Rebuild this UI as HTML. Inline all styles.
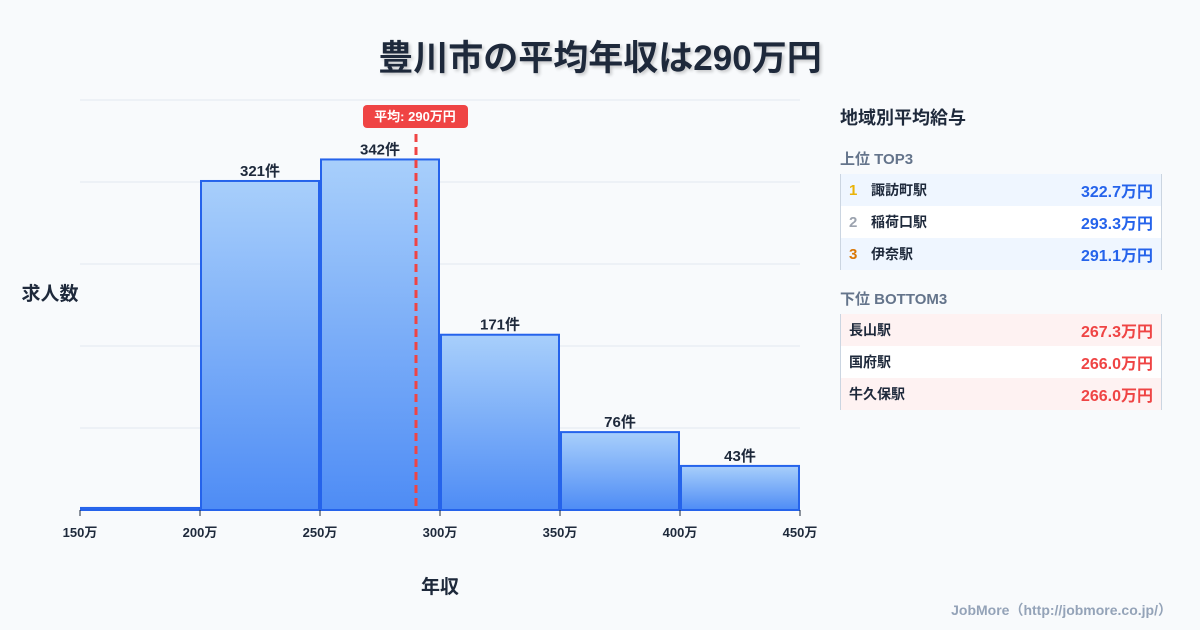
<!DOCTYPE html>
<html><head><meta charset="utf-8">
<style>
body{margin:0;width:1200px;height:630px;background:#f8fafc;font-family:"Liberation Sans","Noto Sans CJK JP",sans-serif;overflow:hidden;position:relative}
.title{position:absolute;top:30px;left:0;width:1200px;text-align:center;font-size:35px;font-weight:bold;color:#1e293b;text-shadow:2px 2px 3px rgba(0,0,0,0.2)}
.panel{position:absolute;left:840px;top:100px;width:322px}
.ph{font-size:18px;font-weight:bold;color:#1e293b;margin-top:4px}
.sh{font-size:15px;font-weight:bold;color:#64748b;margin-top:18px;margin-bottom:5px}
.tbl{border-right:1px solid #cbd5e1;border-left:1px solid #cbd5e1}
.row{height:32px;display:flex;align-items:center;font-size:14px;font-weight:bold;color:#1e293b;padding-left:8px;padding-right:8px}
.row .v{margin-left:auto;font-size:16px}
.rk{width:22px;font-size:15px}
.foot{position:absolute;right:28px;bottom:10px;font-size:14px;font-weight:bold;color:#94a3b8}
</style></head><body>
<div class="title">豊川市の平均年収は290万円</div>
<svg id="chart" width="1200" height="630" style="position:absolute;left:0;top:0">
<defs><linearGradient id="g" x1="0" y1="0" x2="0" y2="1"><stop offset="0" stop-color="#a8cffb"/><stop offset="1" stop-color="#4e8cf5"/></linearGradient></defs>
</svg>
<div class="panel">
<div class="ph">地域別平均給与</div>
<div class="sh">上位 TOP3</div>
<div class="tbl">
<div class="row" style="background:#eff6ff"><span class="rk" style="color:#eab308">1</span>諏訪町駅<span class="v" style="color:#2563eb">322.7万円</span></div>
<div class="row" style="background:#fff"><span class="rk" style="color:#9ca3af">2</span>稲荷口駅<span class="v" style="color:#2563eb">293.3万円</span></div>
<div class="row" style="background:#eff6ff"><span class="rk" style="color:#d97706">3</span>伊奈駅<span class="v" style="color:#2563eb">291.1万円</span></div>
</div>
<div class="sh">下位 BOTTOM3</div>
<div class="tbl">
<div class="row" style="background:#fef2f2">長山駅<span class="v" style="color:#ef4444">267.3万円</span></div>
<div class="row" style="background:#fff">国府駅<span class="v" style="color:#ef4444">266.0万円</span></div>
<div class="row" style="background:#fef2f2">牛久保駅<span class="v" style="color:#ef4444">266.0万円</span></div>
</div>
</div>
<div class="foot">JobMore（http://jobmore.co.jp/）</div>
<script>
const binStarts=[150,200,250,300,350,400];
const counts=[2,321,342,171,76,43];
const xTicks=[150,200,250,300,350,400,450];
const average=290;
const svg=document.getElementById('chart');
const NS='http://www.w3.org/2000/svg';
const x=v=>80+(v-150)*720/300;
const y=v=>510-v*410/400;
function mk(t,a){const e=document.createElementNS(NS,t);for(const k in a)e.setAttribute(k,a[k]);svg.appendChild(e);return e;}
for(let g=0;g<=400;g+=80){
 const l=mk('line',{x1:80,x2:800,y1:y(g),y2:y(g),stroke:'#e2e8f0','stroke-width':1});
 
 
}
binStarts.forEach((b,i)=>{
 const x0=x(b)+1,x1=x(b+50)-1,top=y(counts[i]);
 const r=mk('rect',{x:x0,y:top,width:x1-x0,height:510-top,fill:'url(#g)',stroke:'#2563eb','stroke-width':2});
 
 
 if(counts[i]>10){
  const t=mk('text',{x:(x0+x1)/2,y:top-5,'text-anchor':'middle','font-size':15,'font-weight':'bold',fill:'#1e293b'});
  t.textContent=counts[i]+'件';
  
  
 }
});
xTicks.forEach(v=>{
 const l=mk('line',{x1:x(v),x2:x(v),y1:510,y2:516,stroke:'#1e293b','stroke-width':1});
 
 
 const t=mk('text',{x:x(v),y:537,'text-anchor':'middle','font-size':13,'font-weight':'bold',fill:'#1e293b'});
 t.textContent=v+'万';
 
 
});
const al=mk('line',{x1:x(average),x2:x(average),y1:134,y2:510,stroke:'#ef4444','stroke-width':3,'stroke-dasharray':'8 5'});


const ab=mk('rect',{x:x(average)-53,y:105,width:105,height:23,rx:4,fill:'#ef4444'});


const at=mk('text',{x:x(average)-1,y:121,'text-anchor':'middle','font-size':13,'font-weight':'bold',fill:'#fff'});
at.textContent='平均: '+average+'万円';


const yt=mk('text',{x:50,y:300,'text-anchor':'middle','font-size':19,'font-weight':'bold',fill:'#1e293b'});
yt.textContent='求人数';


const xt=mk('text',{x:440,y:593,'text-anchor':'middle','font-size':19,'font-weight':'bold',fill:'#1e293b'});
xt.textContent='年収';


</script>
</body></html>
